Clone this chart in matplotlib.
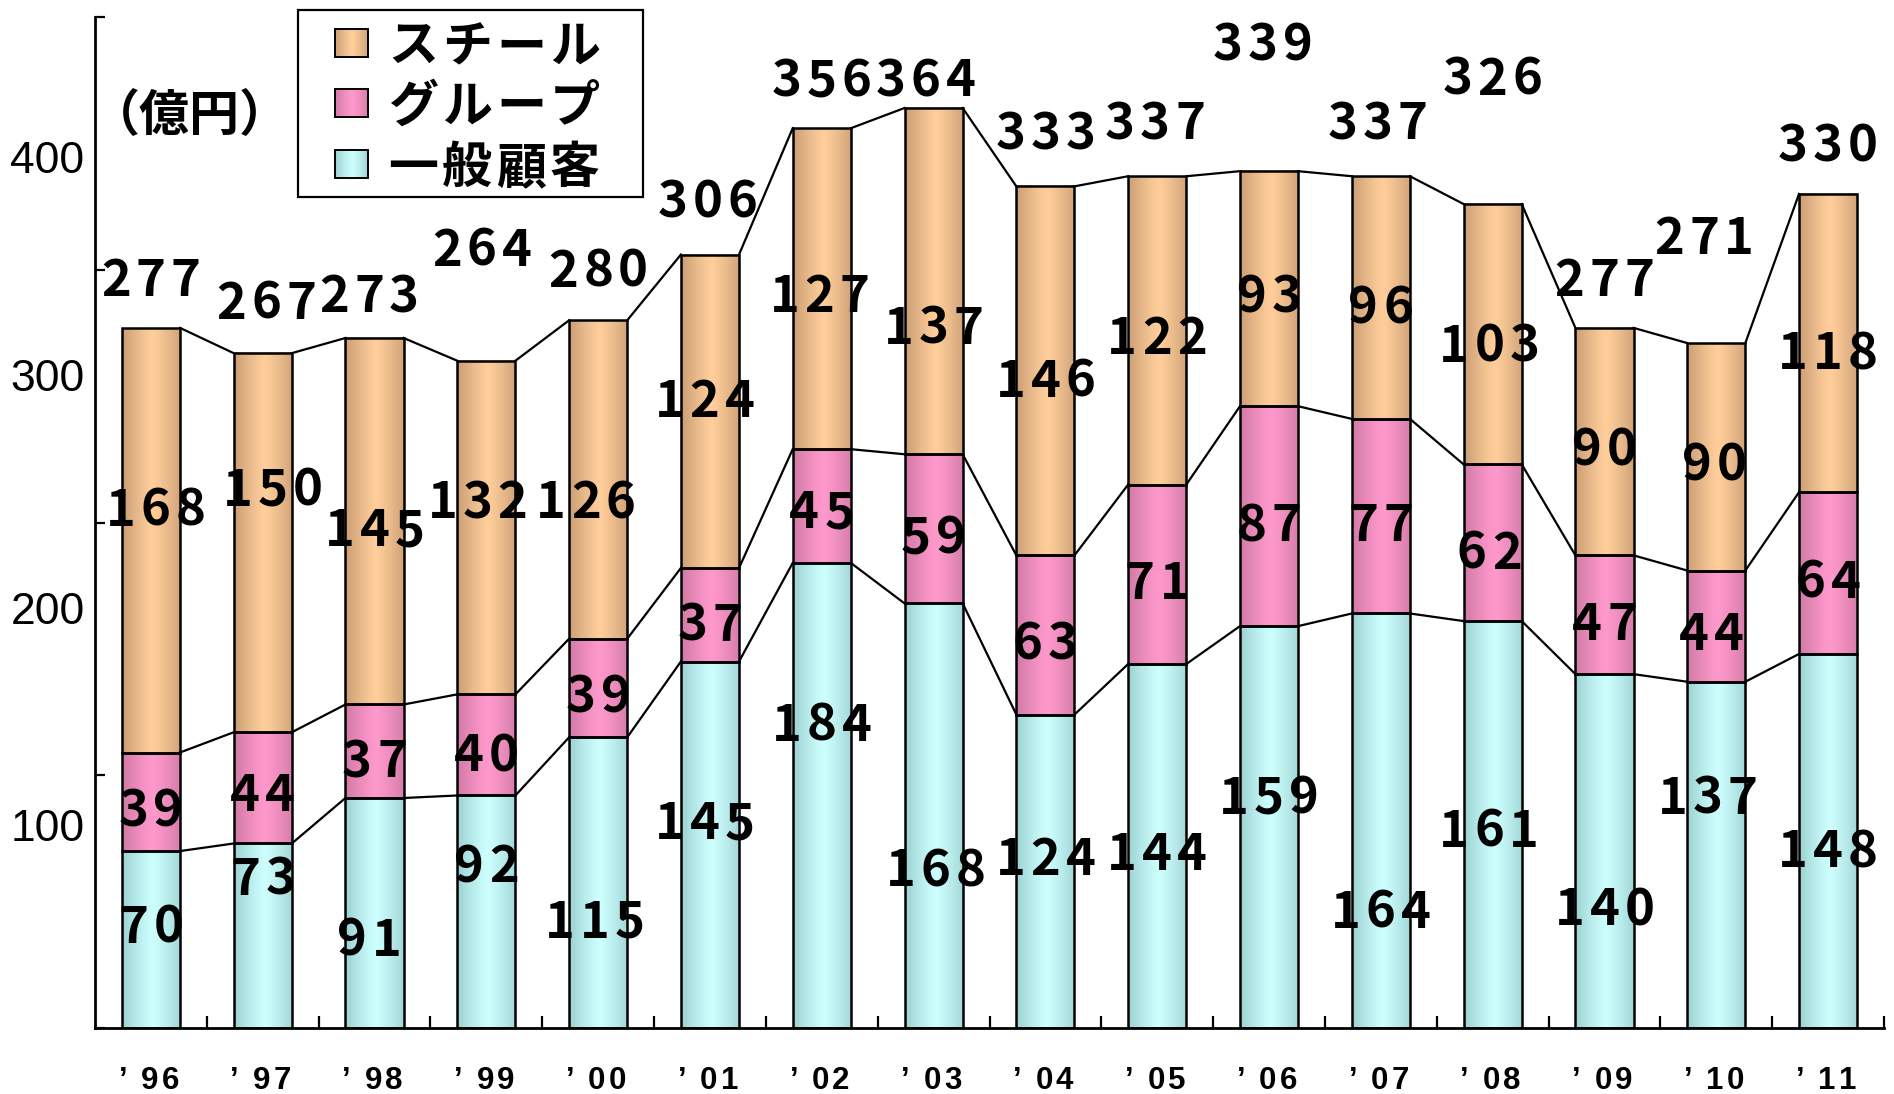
import numpy as np
import matplotlib
matplotlib.use('Agg')
import matplotlib.pyplot as plt
from matplotlib.patches import Rectangle
from matplotlib.transforms import ScaledTranslation

# ---------------- data ----------------
years = ['96', '97', '98', '99', '00', '01', '02', '03',
         '04', '05', '06', '07', '08', '09', '10', '11']
general = [70, 73, 91, 92, 115, 145, 184, 168, 124, 144, 159, 164, 161, 140, 137, 148]
group = [39, 44, 37, 40, 39, 37, 45, 59, 63, 71, 87, 77, 62, 47, 44, 64]
steel = [168, 150, 145, 132, 126, 124, 127, 137, 146, 122, 93, 96, 103, 90, 90, 118]
totals = [277, 267, 273, 264, 280, 306, 356, 364, 333, 337, 339, 337, 326, 277, 271, 330]
series_names = ['スチール', 'グループ', '一般顧客']
ytick_labels = ['100', '200', '300', '400']
unit_label = '（億円）'

# label placement (data-y of label centre, x shift in category units)
lab_y_general = [41, 60, 36, 65, 43, 82, 121, 63.5, 68, 70, 92, 47, 79, 48, 92, 71]
lab_y_group = [87, 93, 106.5, 109, 132, 160.5, 205, 195, 153, 177, 200, 200, 189, 161, 157, 177.5]
lab_y_steel = [206, 214, 198, 209, 209, 249, 290.5, 278, 257, 274, 290.5, 286, 271, 230, 224, 268]
lab_y_total = [297, 288, 290.5, 309, 300.5, 328, 376, 376, 355, 359, 390, 359, 376.5, 297, 313.5, 350]
dx_general = [0, 0, -0.05, 0, -0.03, -0.05, 0, 0.02, 0, 0, 0, 0, -0.03, 0, -0.08, 0]
dx_group = [0, 0, 0, 0, 0, 0, 0, 0, 0, 0, 0, 0, -0.03, 0, -0.04, 0]
dx_steel = [0.04, 0.09, 0, -0.08, -0.11, -0.05, -0.02, 0, 0, 0, 0, 0, -0.03, 0, -0.02, 0]
dx_total = [0, 0.03, -0.05, -0.04, 0, -0.02, 0, -0.07, 0, -0.02, -0.055, -0.03, 0, 0, -0.11, 0]
ytick_pos = [80.3, 166.2, 258.4, 344.6]

# ---------------- style ----------------
W, H, DPI = 1894, 1094, 100
CJK = ['Noto Sans CJK JP', 'DejaVu Sans']
col_steel = ((205, 160, 118), (255, 206, 155))
col_group = ((212, 124, 168), (255, 153, 204))
col_general = ((160, 212, 212), (206, 255, 255))


def gradient(edge, centre, n=64):
    t = np.linspace(0, 1, n)
    w = np.clip(1 - np.abs(2 * t - 1.05) ** 1.2, 0, 1)
    e = np.array(edge) / 255.0
    c = np.array(centre) / 255.0
    g = e[None, :] * (1 - w[:, None]) + c[None, :] * w[:, None]
    return g[None, :, :]


fig = plt.figure(figsize=(W / DPI, H / DPI), dpi=DPI)
ax = fig.add_axes([95 / W, 1 - 1028 / H, (1884 - 95) / W, (1028 - 17) / H])

n = len(years)
x = np.arange(n)
bw = 0.52
b_general = np.zeros(n)
b_group = np.array(general, dtype=float)
b_steel = b_group + np.array(group)
tops = b_steel + np.array(steel)

for vals, bottom, cols in [(general, b_general, col_general),
                           (group, b_group, col_group),
                           (steel, b_steel, col_steel)]:
    g = gradient(*cols)
    for i in range(n):
        ax.imshow(g, extent=(x[i] - bw / 2, x[i] + bw / 2, bottom[i], bottom[i] + vals[i]),
                  aspect='auto', interpolation='bilinear', zorder=1)
    ax.bar(x, vals, bw, bottom=bottom, facecolor='none', edgecolor='black',
           linewidth=1.8, zorder=2)

# series lines
for level in [b_group, b_steel, tops]:
    xs, ys = [], []
    for i in range(n - 1):
        xs += [x[i] + bw / 2, x[i + 1] - bw / 2, np.nan]
        ys += [level[i], level[i + 1], np.nan]
    ax.plot(xs, ys, color='black', lw=1.6, zorder=2)

ax.set_xlim(-0.5, n - 0.5)
ax.set_ylim(0, 400)
ax.set_aspect('auto')

for s in ['top', 'right']:
    ax.spines[s].set_visible(False)
for s in ['left', 'bottom']:
    ax.spines[s].set_linewidth(2)

ax.set_yticks([0, 100, 200, 300, 400])
ax.set_yticklabels([])
ax.tick_params(axis='y', which='major', direction='in', length=7.5, width=1.6)
ax.set_yticks(ytick_pos, labels=ytick_labels, minor=True)
ax.tick_params(axis='y', which='minor', length=0, pad=7.5, labelsize=32)
for t in ax.get_yticklabels(minor=True):
    t.set_family('Liberation Sans')

ax.set_xticks(np.arange(0.5, n, 1))
ax.set_xticklabels([])
ax.tick_params(axis='x', which='major', direction='in', length=8.5, width=1.6)


def spaced(xd, yd, s, pitch_px, dy_px, **kw):
    m = len(s)
    for k, ch in enumerate(s):
        off = (k - (m - 1) / 2) * pitch_px
        tr = ax.transData + ScaledTranslation(off / DPI, dy_px / DPI, fig.dpi_scale_trans)
        ax.text(xd, yd, ch, transform=tr, ha='center', va='baseline', **kw)


# value labels
for vals, ly, dx in [(general, lab_y_general, dx_general),
                     (group, lab_y_group, dx_group),
                     (steel, lab_y_steel, dx_steel),
                     (totals, lab_y_total, dx_total)]:
    for i in range(n):
        spaced(x[i] + dx[i], ly[i], str(vals[i]), 35, -18.5,
               fontsize=36.5, fontweight='bold', family=CJK, zorder=3)

# x labels
for i, yr in enumerate(years):
    tr_a = ax.transData + ScaledTranslation(-28 / DPI, -61 / DPI, fig.dpi_scale_trans)
    spaced(x[i] + 9 / 111.8, 0, yr, 20.5, -61,
           fontsize=22.5, fontweight='bold', family='Liberation Sans')
    ax.text(x[i], 0, '’', transform=tr_a, ha='center', va='baseline',
            fontsize=22.5, fontweight='bold', family='Liberation Sans')

# unit label
fig.text(190 / W, 1 - 130.5 / H, unit_label, ha='center', va='baseline',
         fontsize=36, fontweight='bold', family=CJK)

# legend (manual)
lw_, lh_ = 345, 187
lax = fig.add_axes([298 / W, 1 - 197 / H, lw_ / W, lh_ / H])
lax.set_xlim(0, lw_)
lax.set_ylim(lh_, 0)
lax.axis('off')
lax.add_patch(Rectangle((0, 0), lw_, lh_, facecolor='white', edgecolor='black',
                        lw=1.6, clip_on=False, zorder=0))
row_y = [33, 92.5, 154]
for name, cols, cy in zip(series_names, [col_steel, col_group, col_general], row_y):
    lax.imshow(gradient(*cols), extent=(37, 70, cy + 14, cy - 14), aspect='auto',
               interpolation='bilinear', zorder=1)
    lax.add_patch(Rectangle((37, cy - 14), 33, 28, facecolor='none',
                            edgecolor='black', lw=1.4, zorder=2))
    for k, ch in enumerate(name):
        lax.text(115 + k * 54, cy + 19, ch, ha='center', va='baseline',
                 fontsize=36, fontweight='bold', family=CJK, zorder=3)
lax.set_xlim(0, lw_)
lax.set_ylim(lh_, 0)

fig.savefig('out.png', dpi=DPI)
